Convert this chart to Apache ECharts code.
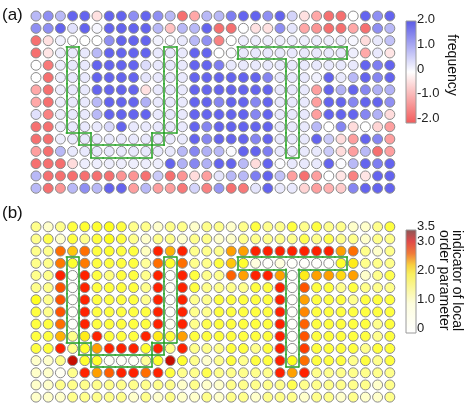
<!DOCTYPE html>
<html>
<head>
<meta charset="utf-8">
<script src="https://cdn.jsdelivr.net/npm/echarts@6/dist/echarts.min.js"></script>
<style>
  html, body { margin: 0; padding: 0; background: #fff; }
  #chart { width: 469px; height: 410px; }
</style>
</head>
<body>
<div id="chart"></div>
<script>
// panel (a): frequency per site, 15 rows x 30 columns
const freqRows = [
  [0.8,1.3,0.8,1.8,1.8,-0.35,1.8,1.8,1.3,1.8,1.3,0.8,-1.6,-1.0,0.8, 0.8,1.5,1.8,1.8,1.3,1.8,0.5,-0.35,-1.0,-1.6,-1.6,0,1.8,1.3,1.8],
  [1.3,1.3,1.8,0.35,1.8,0.1,1.8,1.8,1.8,1.8,0.8,-0.7,0.8,0.8,1.8, -1.6,-1.6,0,-0.35,-0.35,1.3,0.3,-1.0,-1.2,-1.6,-1.6,-1.0,-1.6,1.3,0.8],
  [-1.6,-0.35,0.15,0,0,0,1.3,1.8,1.8,1.8,0.15,0.05,0.25,0.8,1.3, -1.4,0,0.2,0.2,0.2,0.2,0.2,0.2,0.2,0.2,0.2,0.1,-0.4,0.25,0.7],
  [-1.6,-0.3,0.2,0.25,0.25,0.8,1.8,1.8,1.8,1.8,0.25,0.25,0.25,1.8,1.8, 0,0.05,0.25,0.25,0.25,0.25,0.25,0.25,0.25,0.25,0.25,0.2,-1.0,0.25,-0.3],
  [0,-1.5,0.2,0.25,0.25,1.8,1.8,1.8,1.8,0.4,0.25,0.25,0.25,1.8,1.8, 1.5,0.25,0.25,0.25,0.25,0.25,0.25,0.25,0.25,0.25,0.25,0.25,1.8,1.5,1.8],
  [0,-1.6,0.2,0.25,0.25,1.8,1.8,1.8,1.8,0.3,0.25,0.25,0.25,1.8,1.8, 1.8,1.8,1.8,1.8,1.4,0.25,0.25,0.25,0.15,1.8,0.25,0.8,1.8,1.4,1.8],
  [-1.0,-1.6,0.2,0.25,0.25,1.8,1.8,1.8,1.8,-0.35,0.25,0.25,0.25,1.8,1.8, 1.8,1.8,1.8,1.8,1.8,0.25,0.25,0.25,-1.1,1.8,0.9,1.8,1.4,0.9,0.9],
  [-1.0,-1.6,0.2,0.25,0.25,0.8,1.8,1.8,1.8,0.9,0.25,0.25,0.25,1.8,1.8, 1.4,1.8,1.8,1.4,1.8,0.25,0.25,0.25,-1.1,1.8,1.8,1.4,1.8,1.8,1.3],
  [0.35,-1.4,0.2,0.25,0.25,0.8,1.8,1.8,1.8,1.8,0.25,0.25,0.25,1.8,1.8, 1.8,1.8,1.8,1.4,1.8,0.25,0.25,0.25,-1.1,1.8,1.8,1.8,1.4,0.9,-0.4],
  [-1.6,-1.6,0.2,0.25,0.25,0.25,0.45,1.8,0.25,0.25,0.25,0.25,0.25,1.8,1.4, 1.8,1.8,1.8,1.8,1.8,0.25,0.25,0.25,0.8,0,1.4,-0.4,0,-0.5,-1.1],
  [-1.6,-1.6,0.2,0.25,0.25,0.25,0.25,0.25,0.25,0.25,0.25,0.25,0.25,1.8,1.4, 1.8,1.8,1.8,1.4,1.8,0.25,0.25,0.25,1.8,0.6,-0.4,-1.1,1.8,1.4,-1.1],
  [-1.1,-1.6,0.8,0.25,0.25,0.25,0.25,0.25,0.25,0.25,0.25,0.25,0.8,1.4,0.9, 0.8,0.05,1.8,1.8,1.5,0.25,0.25,0.25,0.25,0.6,-0.4,-1.1,0.8,-1.6,-1.1],
  [-1.6,-1.6,-1.6,-0.4,0.2,0.2,0.2,0.2,0.2,0.2,0.2,1.8,0.9,1.4,0.9, 1.8,1.8,0.8,-0.4,1.8,0.05,0.25,0.25,0.25,1.8,0.05,0.8,1.8,1.5,1.8],
  [0.8,-1.6,-1.6,-1.6,-1.6,-1.6,-1.6,-1.2,-1.2,-1.6,0.6,-1.6,-1.2,-0.4,-1.1, 0.3,0.8,0.8,1.5,1.8,0.7,-1.1,-1.6,-1.1,0,-0.3,-1.4,-0.3,1.8,1.8],
  [0.8,-1.6,-1.2,0.8,1.3,0.8,1.8,1.8,-1.1,0.8,-1.1,-1.1,-1.5,0.5,-1.4, 1.2,-1.6,-1.5,0.3,1.8,0.25,0.25,-0.5,-1.1,-0.9,-0.6,1.4,1.8,1.8,1.8]
]

// panel (b): indicator of local order parameter
const orderRows = [
  [1.3,0.8,1.3,1.8,1.9,1.9,2.0,1.8,1.3,1.3,0.8,1.3,1.3,0.8,1.3, 1.3,0.8,1.3,1.8,1.3,1.3,1.8,1.3,1.8,1.3,1.3,0.8,0.8,1.3,1.8],
  [1.3,1.7,0.8,1.8,1.3,1.8,2.0,1.8,1.3,0.8,1.3,1.3,0.8,1.3,1.3, 0.8,0.8,1.3,1.3,1.3,1.3,1.3,1.7,1.3,1.7,1.3,1.3,0.8,1.3,1.3],
  [1.3,1.3,2.7,2.3,2.7,1.8,1.9,1.8,1.8,0.9,3.0,2.4,3.0,1.3,1.3, 1.3,2.5,2.5,3.0,3.0,3.0,3.0,3.0,3.0,3.0,2.5,2.7,1.3,0.8,1.3],
  [1.3,1.3,2.65,1.9,2.65,1.8,1.8,1.8,1.8,1.2,2.7,1.9,2.7,1.3,1.3, 1.8,2.3,1.9,0.6,0.1,0.6,0.1,0.1,0.1,0.1,1.9,2.1,1.3,1.3,1.3],
  [1.3,1.3,3.0,0.1,3.0,1.8,1.4,1.8,1.8,1.3,3.0,0.1,3.0,1.8,1.3, 1.3,2.75,2.5,3.0,3.0,2.5,0.1,2.1,2.5,2.5,2.2,2.5,0.8,1.3,1.7],
  [1.3,1.3,2.8,0.1,3.0,1.8,1.8,1.8,1.8,1.3,3.0,0.3,3.0,1.8,1.3, 1.3,1.3,1.3,1.8,1.8,3.0,0.1,2.8,1.8,1.8,1.3,1.8,1.3,1.3,1.3],
  [2.0,1.3,2.8,0.1,3.0,1.8,1.8,1.8,1.8,1.3,3.0,0.1,3.0,1.3,1.3, 1.8,1.8,1.8,1.8,1.8,3.0,0.1,2.5,1.8,1.8,1.8,1.3,1.8,1.8,1.8],
  [1.8,1.3,2.8,0.1,3.0,1.8,1.8,1.8,1.8,1.8,3.0,0.1,3.0,1.3,1.3, 1.8,1.8,1.8,1.8,1.8,3.0,0.1,2.6,1.8,1.8,1.8,1.8,1.8,1.8,1.8],
  [1.8,1.8,2.7,0.1,3.0,1.8,1.8,1.8,1.8,1.8,3.0,0.3,3.0,1.3,1.7, 1.8,1.8,1.8,1.8,1.8,3.0,0.1,2.75,1.8,1.8,1.8,1.8,1.8,1.3,1.8],
  [1.8,1.8,2.4,1.3,2.1,3.0,1.8,1.8,1.8,3.0,2.1,1.8,2.5,1.8,1.8, 1.8,1.8,1.8,1.8,1.8,3.0,0.1,2.8,1.8,1.8,1.8,1.8,1.8,1.3,1.8],
  [1.8,1.8,3.0,1.3,1.9,2.5,3.0,3.0,3.0,1.9,3.0,1.3,3.0,1.3,1.3, 1.3,1.8,1.8,1.3,1.8,3.0,0.1,2.9,1.8,1.8,1.8,1.8,1.3,1.8,1.8],
  [0.8,0.8,1.3,3.3,1.9,1.9,0.2,0.2,0.2,1.2,1.9,3.3,1.9,1.3,0.8, 1.3,1.8,1.3,1.8,1.8,3.0,2.0,2.7,1.8,1.8,1.8,1.3,1.8,1.3,1.8],
  [0.8,0.8,0.3,1.3,3.0,2.5,2.75,3.0,3.0,2.7,3.0,1.8,1.3,1.3,1.7, 1.3,1.3,1.3,1.3,1.3,3.0,2.5,3.0,1.3,1.3,1.3,1.3,1.3,1.3,1.3],
  [0.8,0.8,1.3,1.3,1.3,1.3,1.3,1.3,1.3,1.3,1.3,1.3,0.8,1.3,0.8, 0.8,1.3,1.3,1.3,1.3,1.3,1.7,1.3,1.3,1.3,1.3,1.3,1.3,0.8,1.3],
  [0.8,0.8,0.8,1.3,1.3,1.3,1.3,1.3,0.8,1.3,0.8,1.3,0.8,0.8,1.3, 0.8,1.3,1.3,0.8,1.3,1.3,1.3,0.8,1.3,1.3,0.8,1.3,0.8,0.8,1.3]
]

// outlined regions as [colStart, colEnd, rowStart, rowEnd] blocks of sites
const uBlocks = [[3, 3, 3, 9], [4, 4, 10, 10], [5, 9, 11, 11], [10, 10, 10, 10], [11, 11, 3, 9]]
const tBlocks = [[17, 25, 3, 3], [21, 21, 4, 11]]

const freqTicks = [-2, -1, 0, 1, 2]
const orderTicks = [0, 1, 2, 3, 3.5]

const FONT = "'Liberation Sans', Arial, sans-serif"
const GREEN = '#2ea52e'
const freqColors = ['#f04a4a', '#ffa8a8', '#ffffff', '#a8a8f5', '#5353ee']
const orderColors = ['#ffffff', '#ffffea', '#ffffb4', '#ffff70', '#ffff20', '#ffa000', '#ff2200', '#a00000']

const toCells = (rows) => {
  const out = []
  rows.forEach((row, r) => row.forEach((v, c) => out.push([c, r, v])))
  return out
}

// edges of the union of blocks: every cell side facing a cell outside the region
const outlineSegments = (blocks) => {
  const key = (c, r) => c + ',' + r
  const cells = new Set()
  blocks.forEach(([c0, c1, r0, r1]) => {
    for (let c = c0; c <= c1; c++) {
      for (let r = r0; r <= r1; r++) cells.add(key(c, r))
    }
  })
  const segs = []
  cells.forEach((k) => {
    const [c, r] = k.split(',').map(Number)
    if (!cells.has(key(c, r - 1))) segs.push({ coords: [[c - 0.5, r - 0.5], [c + 0.5, r - 0.5]] })
    if (!cells.has(key(c, r + 1))) segs.push({ coords: [[c - 0.5, r + 0.5], [c + 0.5, r + 0.5]] })
    if (!cells.has(key(c - 1, r))) segs.push({ coords: [[c - 0.5, r - 0.5], [c - 0.5, r + 0.5]] })
    if (!cells.has(key(c + 1, r))) segs.push({ coords: [[c + 0.5, r - 0.5], [c + 0.5, r + 0.5]] })
  })
  return segs
}

const shapeSegs = outlineSegments(uBlocks).concat(outlineSegments(tBlocks))

const siteAxisX = (i) => ({ gridIndex: i, type: 'value', min: -0.5, max: 29.5, show: false })
const siteAxisY = (i) => ({ gridIndex: i, type: 'value', min: -0.5, max: 14.5, inverse: true, show: false })

const barAxisY = (i, ticks) => ({
  gridIndex: i,
  type: 'value',
  min: ticks[0],
  max: ticks[ticks.length - 1],
  interval: 0.5,
  position: 'right',
  axisLine: { show: false },
  axisTick: { show: false },
  splitLine: { show: false },
  axisLabel: {
    margin: 1,
    fontSize: 13,
    fontFamily: FONT,
    color: '#222',
    hideOverlap: false,
    formatter: (v) => (ticks.includes(v) ? (v === 0 ? '0' : v.toFixed(1)) : '')
  }
})

const siteSeries = (idx, data) => ({
  type: 'scatter',
  xAxisIndex: idx,
  yAxisIndex: idx,
  data,
  symbol: 'circle',
  symbolSize: 10,
  itemStyle: { borderColor: '#8c8c8c', borderWidth: 1, opacity: 1 },
  silent: true
})

const outlineSeries = (idx) => ({
  type: 'lines',
  coordinateSystem: 'cartesian2d',
  xAxisIndex: idx,
  yAxisIndex: idx,
  data: shapeSegs,
  lineStyle: { color: GREEN, width: 1.6, opacity: 1, cap: 'square' },
  silent: true,
  z: 5
})

const gradient = (stops) => new echarts.graphic.LinearGradient(0, 0, 0, 1, stops)

const chart = echarts.init(document.getElementById('chart'))

chart.setOption({
  animation: false,
  backgroundColor: '#ffffff',
  grid: [
    { left: 29.9, top: 9.9, width: 366, height: 184.5 },
    { left: 29.9, top: 220.7, width: 366, height: 182.5 },
    { left: 406, top: 19.5, width: 10, height: 99 },
    { left: 406, top: 226.7, width: 10, height: 101.6 }
  ],
  xAxis: [
    siteAxisX(0),
    siteAxisX(1),
    { gridIndex: 2, type: 'value', show: false },
    { gridIndex: 3, type: 'value', show: false }
  ],
  yAxis: [
    siteAxisY(0),
    siteAxisY(1),
    barAxisY(2, freqTicks),
    barAxisY(3, orderTicks)
  ],
  visualMap: [
    { show: false, type: 'continuous', seriesIndex: 0, dimension: 2, min: -2, max: 2, inRange: { color: freqColors } },
    { show: false, type: 'continuous', seriesIndex: 1, dimension: 2, min: 0, max: 3.5, inRange: { color: orderColors } }
  ],
  series: [
    siteSeries(0, toCells(freqRows)),
    siteSeries(1, toCells(orderRows)),
    outlineSeries(0),
    outlineSeries(1)
  ],
  graphic: [
    { type: 'text', left: 2, top: 7, style: { text: '(a)', font: '17px ' + FONT, fill: '#111' } },
    { type: 'text', left: 2, top: 205, style: { text: '(b)', font: '17px ' + FONT, fill: '#111' } },
    {
      type: 'rect',
      shape: { x: 406, y: 21, width: 10, height: 102 },
      style: {
        fill: gradient([
          { offset: 0, color: '#5a5ae6' },
          { offset: 0.5, color: '#ffffff' },
          { offset: 1, color: '#f25a5a' }
        ]),
        stroke: '#9a9a9a',
        lineWidth: 1
      }
    },
    {
      type: 'rect',
      shape: { x: 406, y: 230, width: 10, height: 103 },
      style: {
        fill: gradient([
          { offset: 0, color: '#8a5757' },
          { offset: 0.114, color: '#e04a4a' },
          { offset: 0.229, color: '#f07a3a' },
          { offset: 0.343, color: '#f8d040' },
          { offset: 0.43, color: '#f8f060' },
          { offset: 0.714, color: '#fdfdde' },
          { offset: 1, color: '#ffffff' }
        ]),
        stroke: '#9a9a9a',
        lineWidth: 1
      }
    },
    {
      type: 'text', x: 452, y: 65, rotation: -Math.PI / 2,
      style: { text: 'frequency', font: '14px ' + FONT, fill: '#111', align: 'center', verticalAlign: 'middle' }
    },
    {
      type: 'text', x: 457, y: 230, rotation: -Math.PI / 2,
      style: { text: 'indicator of local', font: '14px ' + FONT, fill: '#111', align: 'left', verticalAlign: 'middle' }
    },
    {
      type: 'text', x: 444, y: 230, rotation: -Math.PI / 2,
      style: { text: 'order parameter', font: '14px ' + FONT, fill: '#111', align: 'left', verticalAlign: 'middle' }
    }
  ]
})
</script>
</body>
</html>
